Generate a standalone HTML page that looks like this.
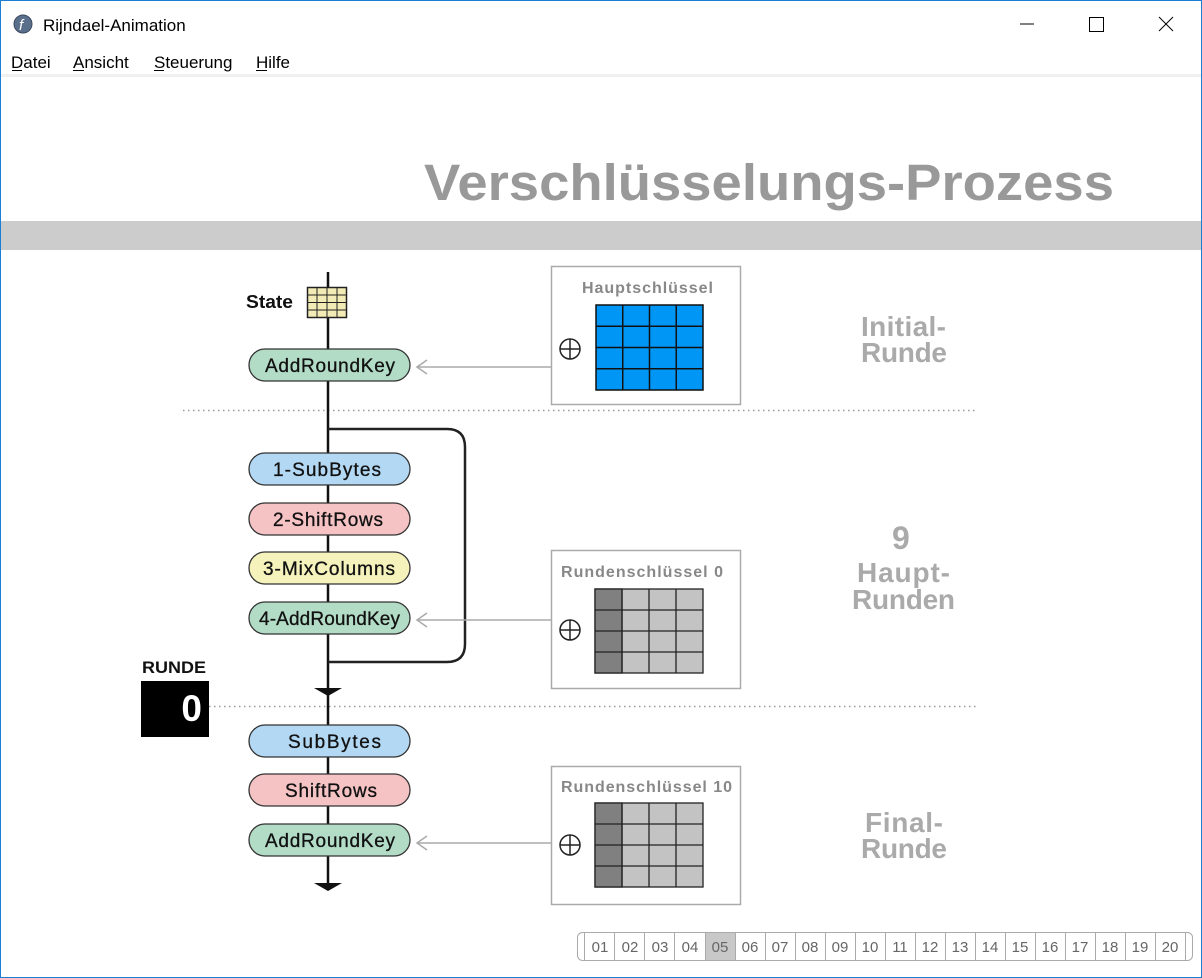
<!DOCTYPE html>
<html><head><meta charset="utf-8"><style>
html,body{margin:0;padding:0;background:#fff;}
svg{display:block;}
text{font-family:"Liberation Sans",Arial,sans-serif;}
</style></head><body>
<svg width="1202" height="978" viewBox="0 0 1202 978" xmlns="http://www.w3.org/2000/svg">
<rect x="0" y="0" width="1202" height="978" fill="#fff"/>
<rect x="0.5" y="0.5" width="1201" height="977" fill="none" stroke="#1a7fd4" stroke-width="1"/>
<circle cx="23" cy="24" r="9" fill="#5a6f8c"/>
<circle cx="23" cy="24" r="9" fill="none" stroke="#3b4a60" stroke-width="1"/>
<text x="19" y="30" font-size="15" fill="#fff" font-style="italic" font-family="Liberation Serif,serif">f</text>
<text x="43" y="31" font-size="17" fill="#000">Rijndael-Animation</text>
<line x1="1020" y1="24" x2="1034" y2="24" stroke="#000" stroke-width="1"/>
<rect x="1089.5" y="17.5" width="14" height="14" fill="none" stroke="#000"/>
<line x1="1159" y1="17" x2="1173" y2="31" stroke="#000"/>
<line x1="1173" y1="17" x2="1159" y2="31" stroke="#000"/>
<g font-size="17" fill="#000">
<text x="11" y="68">Datei</text>
<text x="73" y="68">Ansicht</text>
<text x="154" y="68">Steuerung</text>
<text x="256" y="68">Hilfe</text>
</g>
<g stroke="#000" stroke-width="1">
<line x1="12" y1="70.5" x2="22" y2="70.5"/><line x1="73" y1="70.5" x2="84" y2="70.5"/>
<line x1="154" y1="70.5" x2="164" y2="70.5"/><line x1="256" y1="70.5" x2="267" y2="70.5"/>
</g>
<rect x="1" y="74" width="1200" height="3" fill="#f0f0f0"/>
<text x="424" y="200" font-size="51" font-weight="bold" fill="#999" textLength="690" lengthAdjust="spacingAndGlyphs">Verschlüsselungs-Prozess</text>
<rect x="1" y="221" width="1200" height="29" fill="#cccccc"/>
<line x1="183" y1="410.5" x2="977" y2="410.5" stroke="#999" stroke-width="1.5" stroke-dasharray="1.5,3.5"/>
<line x1="209" y1="706.5" x2="977" y2="706.5" stroke="#999" stroke-width="1.5" stroke-dasharray="1.5,3.5"/>
<line x1="328" y1="272" x2="328" y2="886" stroke="#111" stroke-width="2.5"/>
<path d="M328 429 H447 Q465 429 465 447 V644 Q465 662 447 662 H328" fill="none" stroke="#222" stroke-width="2.5"/>
<polygon points="314,688 342,688 328,696" fill="#111"/>
<polygon points="314,883 342,883 328,891" fill="#111"/>
<text x="246" y="308" font-size="18" font-weight="bold" fill="#111" textLength="47" lengthAdjust="spacingAndGlyphs">State</text>
<g stroke="#222" stroke-width="1">
<rect x="307.5" y="287.5" width="39" height="30" fill="#f3ebb5" stroke-width="1.5"/>
<line x1="317" y1="288" x2="317" y2="317"/><line x1="327" y1="288" x2="327" y2="317"/><line x1="337" y1="288" x2="337" y2="317"/>
<line x1="308" y1="295" x2="346" y2="295"/><line x1="308" y1="302.5" x2="346" y2="302.5"/><line x1="308" y1="310" x2="346" y2="310"/>
</g>
<g stroke="#333" stroke-width="1.3">
<rect x="249" y="349" width="161" height="32" rx="16" fill="#b3dcc7"/>
<rect x="249" y="453" width="161" height="32" rx="16" fill="#b3d8f3"/>
<rect x="249" y="503" width="161" height="32" rx="16" fill="#f5c3c4"/>
<rect x="249" y="552" width="161" height="32" rx="16" fill="#f5f2bb"/>
<rect x="249" y="602" width="161" height="32" rx="16" fill="#b3dcc7"/>
<rect x="249" y="725" width="161" height="32" rx="16" fill="#b3d8f3"/>
<rect x="249" y="774" width="161" height="32" rx="16" fill="#f5c3c4"/>
<rect x="249" y="824" width="161" height="32" rx="16" fill="#b3dcc7"/>
</g>
<g font-size="19" fill="#111" stroke="#111" stroke-width="0.3" lengthAdjust="spacingAndGlyphs">
<text x="265" y="372" textLength="130">AddRoundKey</text>
<text x="273" y="476" textLength="108">1-SubBytes</text>
<text x="273" y="526" textLength="110">2-ShiftRows</text>
<text x="263" y="575" textLength="132">3-MixColumns</text>
<text x="259" y="625" textLength="141">4-AddRoundKey</text>
<text x="288" y="748" textLength="93">SubBytes</text>
<text x="285" y="797" textLength="92">ShiftRows</text>
<text x="265" y="847" textLength="130">AddRoundKey</text>
</g>
<g stroke="#aaa" stroke-width="1.5" fill="none">
<line x1="417" y1="367" x2="551" y2="367"/><polyline points="427,360 417,367 427,374"/>
<line x1="417" y1="620" x2="551" y2="620"/><polyline points="427,613 417,620 427,627"/>
<line x1="417" y1="843" x2="551" y2="843"/><polyline points="427,836 417,843 427,850"/>
</g>
<g fill="#fff" stroke="#aaa" stroke-width="1.5">
<rect x="551.5" y="266.5" width="189" height="138"/>
<rect x="551.5" y="550.5" width="189" height="138"/>
<rect x="551.5" y="766.5" width="189" height="138"/>
</g>
<g font-size="16" font-weight="bold" fill="#888" lengthAdjust="spacingAndGlyphs">
<text x="582" y="293" textLength="131">Hauptschlüssel</text>
<text x="561" y="577" textLength="162">Rundenschlüssel 0</text>
<text x="561" y="792" textLength="171">Rundenschlüssel 10</text>
</g>
<g fill="none" stroke="#222" stroke-width="1.5">
<circle cx="570" cy="349" r="10"/><line x1="560" y1="349" x2="580" y2="349"/><line x1="570" y1="339" x2="570" y2="359"/>
<circle cx="570" cy="630" r="10"/><line x1="560" y1="630" x2="580" y2="630"/><line x1="570" y1="620" x2="570" y2="640"/>
<circle cx="570" cy="845" r="10"/><line x1="560" y1="845" x2="580" y2="845"/><line x1="570" y1="835" x2="570" y2="855"/>
</g>
<g stroke="#111" stroke-width="1.5">
<rect x="596" y="305" width="107" height="85" fill="#0096f5"/>
<line x1="622.75" y1="305" x2="622.75" y2="390"/><line x1="649.5" y1="305" x2="649.5" y2="390"/><line x1="676.25" y1="305" x2="676.25" y2="390"/>
<line x1="596" y1="326.25" x2="703" y2="326.25"/><line x1="596" y1="347.5" x2="703" y2="347.5"/><line x1="596" y1="368.75" x2="703" y2="368.75"/>
</g>
<g stroke="#222" stroke-width="1.3">
<rect x="595" y="589" width="108" height="84" fill="#c3c3c3"/>
<rect x="595" y="589" width="27" height="84" fill="#808080"/>
<line x1="622" y1="589" x2="622" y2="673"/><line x1="649" y1="589" x2="649" y2="673"/><line x1="676" y1="589" x2="676" y2="673"/>
<line x1="595" y1="610" x2="703" y2="610"/><line x1="595" y1="631" x2="703" y2="631"/><line x1="595" y1="652" x2="703" y2="652"/>
</g>
<g stroke="#222" stroke-width="1.3">
<rect x="595" y="803" width="108" height="84" fill="#c3c3c3"/>
<rect x="595" y="803" width="27" height="84" fill="#808080"/>
<line x1="622" y1="803" x2="622" y2="887"/><line x1="649" y1="803" x2="649" y2="887"/><line x1="676" y1="803" x2="676" y2="887"/>
<line x1="595" y1="824" x2="703" y2="824"/><line x1="595" y1="845" x2="703" y2="845"/><line x1="595" y1="866" x2="703" y2="866"/>
</g>
<g font-size="28" font-weight="bold" fill="#aaa" lengthAdjust="spacingAndGlyphs">
<text x="861" y="336" textLength="85">Initial-</text>
<text x="861" y="362" textLength="86">Runde</text>
<text x="892" y="549" font-size="32">9</text>
<text x="857" y="582" textLength="93">Haupt-</text>
<text x="852" y="609" textLength="103">Runden</text>
<text x="865" y="832" textLength="78">Final-</text>
<text x="861" y="858" textLength="86">Runde</text>
</g>
<text x="142" y="673" font-size="17" font-weight="bold" fill="#111" textLength="64" lengthAdjust="spacingAndGlyphs">RUNDE</text>
<rect x="141" y="681" width="68" height="56" fill="#000"/>
<text x="202" y="721" font-size="37" font-weight="bold" fill="#fff" text-anchor="end">0</text>
<rect x="577.5" y="932.5" width="615" height="28" rx="5" fill="#fff" stroke="#aaa"/>
<rect x="584.5" y="932.5" width="601" height="28" fill="#fff" stroke="#aaa"/>
<rect x="706" y="933" width="30" height="27" fill="#c8c8c8"/>
<g stroke="#aaa" stroke-width="1">
<line x1="614.5" y1="933" x2="614.5" y2="960"/><line x1="644.5" y1="933" x2="644.5" y2="960"/><line x1="674.5" y1="933" x2="674.5" y2="960"/><line x1="705.5" y1="933" x2="705.5" y2="960"/><line x1="735.5" y1="933" x2="735.5" y2="960"/><line x1="765.5" y1="933" x2="765.5" y2="960"/><line x1="795.5" y1="933" x2="795.5" y2="960"/><line x1="825.5" y1="933" x2="825.5" y2="960"/><line x1="855.5" y1="933" x2="855.5" y2="960"/><line x1="885.5" y1="933" x2="885.5" y2="960"/><line x1="915.5" y1="933" x2="915.5" y2="960"/><line x1="945.5" y1="933" x2="945.5" y2="960"/><line x1="975.5" y1="933" x2="975.5" y2="960"/><line x1="1005.5" y1="933" x2="1005.5" y2="960"/><line x1="1035.5" y1="933" x2="1035.5" y2="960"/><line x1="1065.5" y1="933" x2="1065.5" y2="960"/><line x1="1095.5" y1="933" x2="1095.5" y2="960"/><line x1="1125.5" y1="933" x2="1125.5" y2="960"/><line x1="1155.5" y1="933" x2="1155.5" y2="960"/>
</g>
<g font-size="15" fill="#666" text-anchor="middle">
<text x="600" y="952">01</text><text x="630" y="952">02</text><text x="660" y="952">03</text><text x="690" y="952">04</text><text x="720" y="952">05</text><text x="750" y="952">06</text><text x="780" y="952">07</text><text x="810" y="952">08</text><text x="840" y="952">09</text><text x="870" y="952">10</text><text x="900" y="952">11</text><text x="930" y="952">12</text><text x="960" y="952">13</text><text x="990" y="952">14</text><text x="1020" y="952">15</text><text x="1050" y="952">16</text><text x="1080" y="952">17</text><text x="1110" y="952">18</text><text x="1140" y="952">19</text><text x="1170" y="952">20</text>
</g>
</svg>
</body></html>
